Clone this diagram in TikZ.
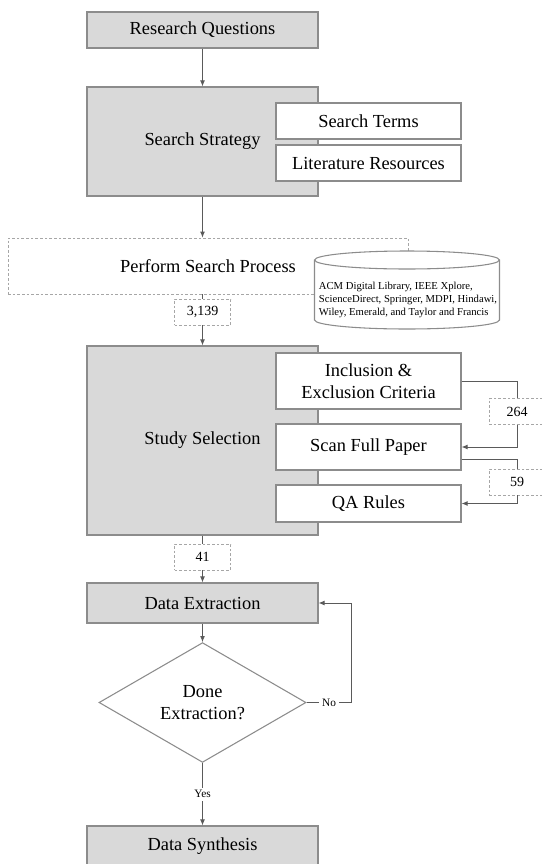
\documentclass[tikz,border=0pt]{standalone}
\usepackage{fontspec}
\setmainfont{Liberation Serif}
\usetikzlibrary{shapes.geometric, arrows.meta}

\definecolor{boxgray}{HTML}{D9D9D9}
\definecolor{edgegray}{HTML}{8C8C8C}
\definecolor{dashgray}{HTML}{A6A6A6}
\definecolor{linegray}{HTML}{5A5A5A}

\begin{document}
\begin{tikzpicture}[x=0.75pt,y=-0.75pt,
	graybox/.style={draw=edgegray, fill=boxgray, line width=0.8pt, align=center, minimum width=173.25pt, font=\fontsize{13.8}{16.5}\selectfont},
	whitebox/.style={draw=edgegray, fill=white, line width=0.8pt, align=center, minimum width=138.75pt, font=\fontsize{13.8}{16.5}\selectfont},
	dashbox/.style={draw=dashgray, fill=white, line width=0.6pt, dash pattern=on 2pt off 1.5pt},
	countbox/.style={dashbox, minimum width=42pt, minimum height=19.5pt, font=\fontsize{10.5}{12}\selectfont},
	link/.style={draw=linegray, line width=0.6pt},
	arr/.style={link, -{Latex[length=4.5pt,width=3.6pt]}},
	lbl/.style={fill=white, inner sep=2pt, font=\fontsize{8.5}{10}\selectfont}]
			\useasboundingbox (0,0) rectangle (542,864);
			\clip (0,0) rectangle (542,864);
			
			% main column
			\node[graybox, minimum height=27pt] (rq) at (202.5,30) {Research Questions};
			\node[graybox, minimum height=81.75pt] (ss) at (202.5,141.5) {Search Strategy};
			\node[whitebox, minimum height=27pt] (st) at (368.5,121) {Search Terms};
			\node[whitebox, minimum height=27pt] (lr) at (368.5,163) {Literature Resources};
			
			\node[dashbox, minimum width=300pt, minimum height=42pt, font=\fontsize{13.8}{16.5}\selectfont] (psp) at (208,266) {Perform Search Process};
			
			% database
			\filldraw[draw=edgegray, fill=white, line width=0.8pt] (314.5,260) -- (314.5,320)
				arc[start angle=180, end angle=360, x radius=69.375pt, y radius=6.75pt] -- (499.5,260)
				arc[start angle=0, end angle=180, x radius=69.375pt, y radius=6.75pt] -- cycle;
			\draw[edgegray, line width=0.8pt] (314.5,260) arc[start angle=180, end angle=360, x radius=69.375pt, y radius=6.75pt];
			\node[align=left, font=\fontsize{8}{9.6}\selectfont] (db) at (408,300) {ACM Digital Library, IEEE Xplore,\\ScienceDirect, Springer, MDPI, Hindawi,\\Wiley, Emerald, and Taylor and Francis};
			
			\node[countbox] (n3139) at (202.5,312) {3,139};
			
			\node[graybox, minimum height=141.75pt] (sel) at (202.5,440.5) {Study Selection};
			\node[whitebox, minimum height=42pt] (inc) at (368.5,381) {Inclusion \&\\Exclusion Criteria};
			\node[whitebox, minimum height=34.5pt] (scan) at (368.5,447) {Scan Full Paper};
			\node[whitebox, minimum height=27.75pt] (qa) at (368.5,503.5) {QA Rules};
			\node[countbox] (n264) at (517,411.5) {264};
			\node[countbox] (n59) at (517,482) {59};
			
			\node[countbox] (n41) at (202.5,557) {41};
			\node[graybox, minimum height=30pt] (dex) at (202.5,603) {Data Extraction};
			\node[shape=diamond, draw=edgegray, fill=white, line width=0.8pt, inner sep=0pt, minimum width=155.25pt, minimum height=89.25pt, align=center, font=\fontsize{13.8}{17}\selectfont] (done) at (202.5,702.5) {Done\\Extraction?};
			\node[graybox, minimum height=30.75pt] (dsy) at (202.5,846.5) {Data Synthesis};
			
			% connectors
			\draw[arr] (rq) -- (ss);
			\draw[arr] (ss.south) -- (ss.south |- psp.north);
			\draw[link] (psp.south -| n3139) -- (n3139);
			\draw[arr] (n3139) -- (sel);
			\draw[link] (inc.east) -| (n264.north);
			\draw[arr] (n264.south) |- (scan.east);
			\draw[link] ([yshift=-9pt]scan.east) -| (n59.north);
			\draw[arr] (n59.south) |- (qa.east);
			\draw[link] (sel) -- (n41);
			\draw[arr] (n41) -- (dex);
			\draw[arr] (dex) -- (done);
			\draw[arr] (done.east) -- node[lbl] {No} ++(45,0) |- (dex.east);
			\draw[arr] (done) -- node[lbl] {Yes} (dsy);
\end{tikzpicture}
\end{document}
